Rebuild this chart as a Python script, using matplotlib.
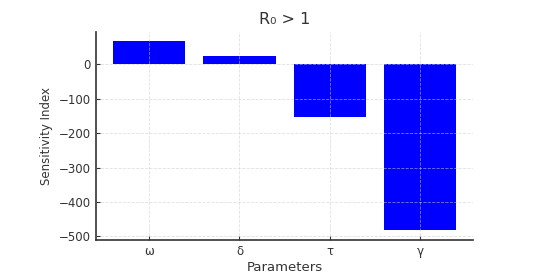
import numpy as np
import matplotlib
matplotlib.use("Agg")
import matplotlib.pyplot as plt

# sensitivity indices for R0 > 1
params = ["ω", "δ", "τ", "γ"]
sens_index = [65.7, 24.0, -152.6, -482.6]

txt = "#333333"
plt.rcParams["font.family"] = "DejaVu Sans"
plt.rcParams["text.color"] = txt
plt.rcParams["axes.labelcolor"] = txt
plt.rcParams["xtick.color"] = txt
plt.rcParams["ytick.color"] = txt

fig = plt.figure(figsize=(5.52, 2.78), dpi=100)
ax = fig.add_axes([0.174, 0.137, 0.683, 0.748])

x = np.arange(len(params))
ax.bar(x, sens_index, width=0.8, color="blue", zorder=1)
ax.set_xticks(x)
ax.set_xticklabels(params)

ax.grid(True, linestyle="--", linewidth=0.6, color="#cccccc", alpha=0.6, zorder=2)
ax.set_axisbelow(False)

for s in ["top", "right"]:
    ax.spines[s].set_visible(False)
for s in ["left", "bottom"]:
    ax.spines[s].set_color(txt)
    ax.spines[s].set_linewidth(1.2)
ax.tick_params(axis="both", direction="in", length=3, width=0.8, labelsize=8.5, pad=4)

ax.set_title("R₀ > 1", fontsize=11.5)
ax.set_xlabel("Parameters", fontsize=9.5, labelpad=2)
ax.set_ylabel("Sensitivity Index", fontsize=8.5)

fig.savefig("out.png", dpi=100)
